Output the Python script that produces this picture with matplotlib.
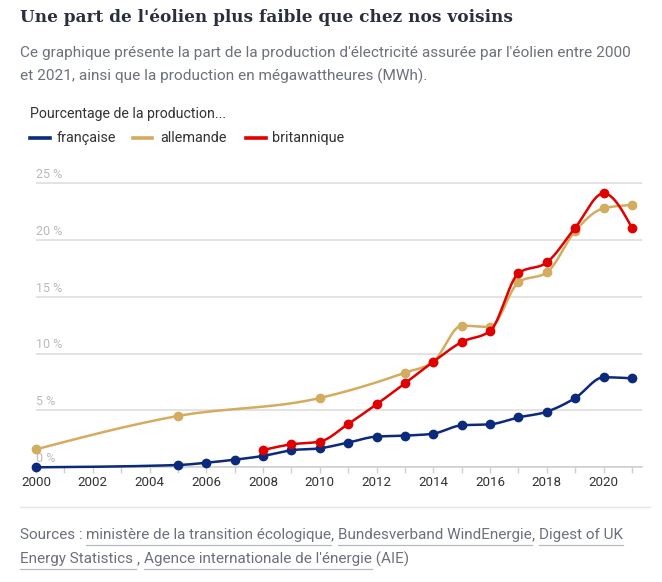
import numpy as np
import matplotlib
matplotlib.use("Agg")
import matplotlib.pyplot as plt
from matplotlib import font_manager as fm

# ---------------- data ----------------
years_fr = [2000, 2005, 2006, 2007, 2008, 2009, 2010, 2011, 2012, 2013, 2014,
            2015, 2016, 2017, 2018, 2019, 2020, 2021]
share_fr = [0.0, 0.2, 0.4, 0.67, 1.0, 1.5, 1.67, 2.17, 2.7, 2.78, 2.96,
            3.69, 3.78, 4.39, 4.89, 6.09, 7.91, 7.82]

years_de = [2000, 2005, 2010, 2013, 2014, 2015, 2016, 2017, 2018, 2019, 2020, 2021]
share_de = [1.58, 4.51, 6.09, 8.32, 9.28, 12.45, 12.33, 16.26, 17.13, 20.77, 22.76, 23.05]

years_uk = [2008, 2009, 2010, 2011, 2012, 2013, 2014, 2015, 2016, 2017, 2018, 2019, 2020, 2021]
share_uk = [1.52, 2.02, 2.26, 3.81, 5.54, 7.38, 9.28, 11.01, 11.98, 17.05, 18.01, 21.06, 24.08, 21.03]

series_names = ["française", "allemande", "britannique"]
series_colors = ["#0b2a7c", "#d4ac5f", "#e00000"]
y_ticks = [0, 5, 10, 15, 20, 25]
x_ticks = list(range(2000, 2022))
x_labels = [str(y) if y % 2 == 0 else "" for y in x_ticks]

title = "Une part de l'éolien plus faible que chez nos voisins"
subtitle_lines = ["Ce graphique présente la part de la production d'électricité assurée par l'éolien entre 2000",
                  "et 2021, ainsi que la production en mégawattheures (MWh)."]
legend_title = "Pourcentage de la production..."

# ---------------- helpers ----------------
available = {f.name for f in fm.fontManager.ttflist}
def pick(*names):
    for n in names:
        if n in available:
            return n
    return "DejaVu Sans"

SANS = pick("Liberation Sans Narrow", "Roboto", "Liberation Sans")
SERIF = pick("DejaVu Serif", "Liberation Serif")
GREY = "#6d707d"
DARK = "#333333"


def monotone_curve(xs, ys, n=30):
    """d3 curveMonotoneX style rendering of a line through the points."""
    x = np.asarray(xs, float)
    y = np.asarray(ys, float)
    h = np.diff(x)
    s = np.diff(y) / h
    t = np.zeros_like(x)
    for i in range(1, len(x) - 1):
        h0, h1, s0, s1 = h[i - 1], h[i], s[i - 1], s[i]
        p = (s0 * h1 + s1 * h0) / (h0 + h1)
        t[i] = (np.sign(s0) + np.sign(s1)) * min(abs(s0), abs(s1), 0.5 * abs(p))
    t[0] = (3 * s[0] - t[1]) / 2 if len(x) > 2 else s[0]
    t[-1] = (3 * s[-1] - t[-2]) / 2 if len(x) > 2 else s[-1]
    X, Y = [], []
    for i in range(len(x) - 1):
        u = np.linspace(0, 1, n)
        dx = h[i]
        h00 = 2 * u**3 - 3 * u**2 + 1
        h10 = u**3 - 2 * u**2 + u
        h01 = -2 * u**3 + 3 * u**2
        h11 = u**3 - u**2
        X.append(x[i] + u * dx)
        Y.append(h00 * y[i] + h10 * dx * t[i] + h01 * y[i + 1] + h11 * dx * t[i + 1])
    return np.concatenate(X), np.concatenate(Y)

# ---------------- figure ----------------
W, H = 662, 582
fig = plt.figure(figsize=(W / 100, H / 100), dpi=100)
fig.patch.set_facecolor("white")

def fx(px):
    return px / W

def fy(py):
    return 1 - py / H

# axes placement (pixel estimates)
x_left_px, x_right_px = 36, 642
y0_px = 467.3
px_per_pct = 11.38
ymax = 26
ax = fig.add_axes([fx(x_left_px), fy(y0_px), (x_right_px - x_left_px) / W,
                   ymax * px_per_pct / H])
per_year = (632 - 36) / 21
ax.set_xlim(2000, 2000 + (x_right_px - x_left_px) / per_year)
ax.set_ylim(0, ymax)
ax.set_facecolor("white")

for sp in ["top", "right", "left"]:
    ax.spines[sp].set_visible(False)
ax.spines["bottom"].set_color("#cfcfcf")
ax.spines["bottom"].set_linewidth(1.2)

ax.set_yticks(y_ticks)
ax.set_yticklabels([])
ax.tick_params(axis="y", length=0)
ax.yaxis.grid(True, color="#e3e3e3", linewidth=1.4)
ax.set_axisbelow(True)

ax.set_xticks(x_ticks)
ax.set_xticklabels(x_labels, fontfamily=SANS, fontsize=9.6, color=DARK)
ax.tick_params(axis="x", direction="out", length=4.5, width=1, color="#cfcfcf", pad=1.5)

for v in y_ticks:
    ax.annotate(f"{v} %", xy=(0, v), xycoords=("axes fraction", "data"),
                xytext=(0, 1.5), textcoords="offset points", ha="left", va="bottom",
                fontfamily=SANS, fontsize=9.0, color="#b9b9b9", zorder=1)

all_series = [(years_fr, share_fr), (years_de, share_de), (years_uk, share_uk)]
order = [1, 2, 0]
for idx in order:
    xs, ys = all_series[idx]
    cx, cy = monotone_curve(xs, ys)
    ax.plot(cx, cy, color=series_colors[idx], linewidth=1.8, zorder=3 + idx,
            clip_on=False, solid_capstyle="round")
    ax.plot(xs, ys, linestyle="none", marker="o", markersize=6.0,
            color=series_colors[idx], zorder=3 + idx, clip_on=False)

# ---------------- texts ----------------
fig.text(fx(20), fy(17.5), title, fontfamily=SERIF, fontweight="bold", fontsize=12.2,
         color="#2b2f3d", va="center", ha="left")
for line, ypx in zip(subtitle_lines, [52.5, 76]):
    fig.text(fx(20), fy(ypx), line, fontfamily=SANS, fontsize=11.1, color=GREY,
             va="center", ha="left")
fig.text(fx(30), fy(114), legend_title, fontfamily=SANS, fontsize=10.2,
         color=DARK, va="center", ha="left")

leg_items = [(30, 50, 57), (133, 152, 160), (246, 266, 272)]
for (l0, l1, tx), name, col in zip(leg_items, series_names, series_colors):
    fig.add_artist(plt.Line2D([fx(l0), fx(l1)], [fy(138.3), fy(138.3)], color=col,
                              linewidth=2.6, transform=fig.transFigure))
    fig.text(fx(tx), fy(138.3), name, fontfamily=SANS, fontsize=10.4, color=DARK,
             va="center", ha="left")

# separator
fig.add_artist(plt.Line2D([fx(20), fx(650)], [fy(507), fy(507)], color="#e6e6e6",
                          linewidth=1.0, transform=fig.transFigure))

# sources with underlines
src_lines = [
    [("Sources : ", False), ("ministère de la transition écologique", True), (", ", False),
     ("Bundesverband WindEnergie", True), (", ", False), ("Digest of UK", True)],
    [("Energy Statistics ", True), (", ", False),
     ("Agence internationale de l'énergie", True), (" (AIE)", False)],
]
src_y = [535, 559]
SRC_FS = 11.0
fig.canvas.draw()
renderer = fig.canvas.get_renderer()
for pieces, ypx in zip(src_lines, src_y):
    xpx = 20
    for txt, under in pieces:
        t = fig.text(fx(xpx), fy(ypx), txt, fontfamily=SANS, fontsize=SRC_FS,
                     color=GREY, va="center", ha="left")
        w = t.get_window_extent(renderer).width
        if under:
            tw = txt.rstrip()
            t2 = fig.text(0, 0, tw, fontfamily=SANS, fontsize=SRC_FS)
            w2 = t2.get_window_extent(renderer).width
            t2.remove()
            fig.add_artist(plt.Line2D([fx(xpx), fx(xpx + w2 + (3 if txt != tw else 0))],
                                      [fy(ypx + 9.5), fy(ypx + 9.5)], color="#b8b8c0",
                                      linewidth=0.9, transform=fig.transFigure))
        xpx += w

fig.savefig("out.png", dpi=100, facecolor="white")
